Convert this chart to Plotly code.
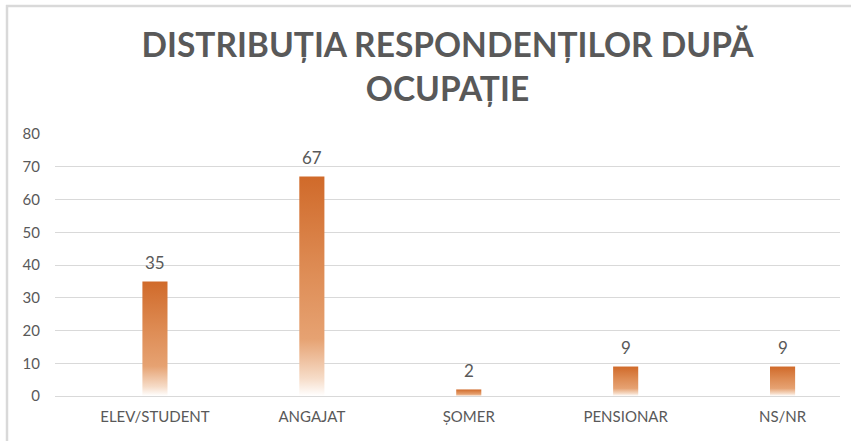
import plotly.graph_objects as go

categories = ["ELEV/STUDENT", "ANGAJAT", "ȘOMER", "PENSIONAR", "NS/NR"]
values = [35, 67, 2, 9, 9]
y_ticks = [0, 10, 20, 30, 40, 50, 60, 70, 80]
title_text = "DISTRIBUȚIA RESPONDENȚILOR DUPĂ<br>OCUPAȚIE"

W, H = 851, 441
ML, MR, MT, MB = 55, 11, 134, 45
half_w = 0.08

fig = go.Figure()
for i, v in enumerate(values):
    xs = [i - half_w, i + half_w, i + half_w, i - half_w, i - half_w]
    ys = [0, 0, v, v, 0]
    fig.add_trace(go.Scatter(
        x=xs, y=ys, mode="lines", fill="toself",
        line=dict(width=0, color="rgba(0,0,0,0)"),
        fillgradient=dict(
            type="vertical",
            colorscale=[[0.0, "rgba(255,255,255,1)"],
                        [0.08, "#F6DCC8"],
                        [0.26, "#E6A272"],
                        [0.6, "#DD8A52"],
                        [1.0, "#D06A2A"]],
        ),
        hoverinfo="skip", showlegend=False,
    ))

for i, v in enumerate(values):
    fig.add_annotation(x=i, y=v, text=str(v), showarrow=False, yshift=19,
                       font=dict(family="Lato, sans-serif", size=17, color="#595959"))

pw = W - ML - MR
ph = H - MT - MB
def px2x(p):
    return (p - ML) / pw
def py2y(p):
    return (H - MB - p) / ph

border = "#D9D9D9"
fig.add_shape(type="line", xref="paper", yref="paper",
              x0=px2x(6), x1=px2x(W + 2), y0=py2y(6), y1=py2y(6),
              line=dict(color=border, width=2.5))
fig.add_shape(type="line", xref="paper", yref="paper",
              x0=px2x(7), x1=px2x(7), y0=py2y(5), y1=py2y(H + 2),
              line=dict(color=border, width=2.5))

fig.update_layout(
    width=W, height=H,
    margin=dict(l=ML, r=MR, t=MT, b=MB),
    paper_bgcolor="white", plot_bgcolor="white",
    title=dict(text=title_text, x=0.5, xanchor="center", xref="paper",
               yref="container", y=0.87, yanchor="top",
               font=dict(family="Lato, sans-serif", size=33.5, color="#595959", weight="bold")),
    xaxis=dict(range=[-0.637, 4.366], tickmode="array",
               tickvals=list(range(len(categories))), ticktext=categories,
               showgrid=False, zeroline=False, showline=False, ticks="",
               ticklabelstandoff=10,
               tickfont=dict(family="Lato, sans-serif", size=15, color="#595959"),
               fixedrange=True),
    yaxis=dict(range=[0, 80], tickmode="array", tickvals=y_ticks,
               showgrid=True, gridcolor="#D9D9D9", gridwidth=1,
               zeroline=True, zerolinecolor="#D9D9D9", zerolinewidth=1,
               showline=False, ticks="", ticklabelstandoff=14,
               tickfont=dict(family="Lato, sans-serif", size=15, color="#595959"),
               fixedrange=True),
)

fig.write_html("out.html", config={"displayModeBar": False},
               post_script="document.body.style.margin='0';document.body.style.overflow='hidden';")
